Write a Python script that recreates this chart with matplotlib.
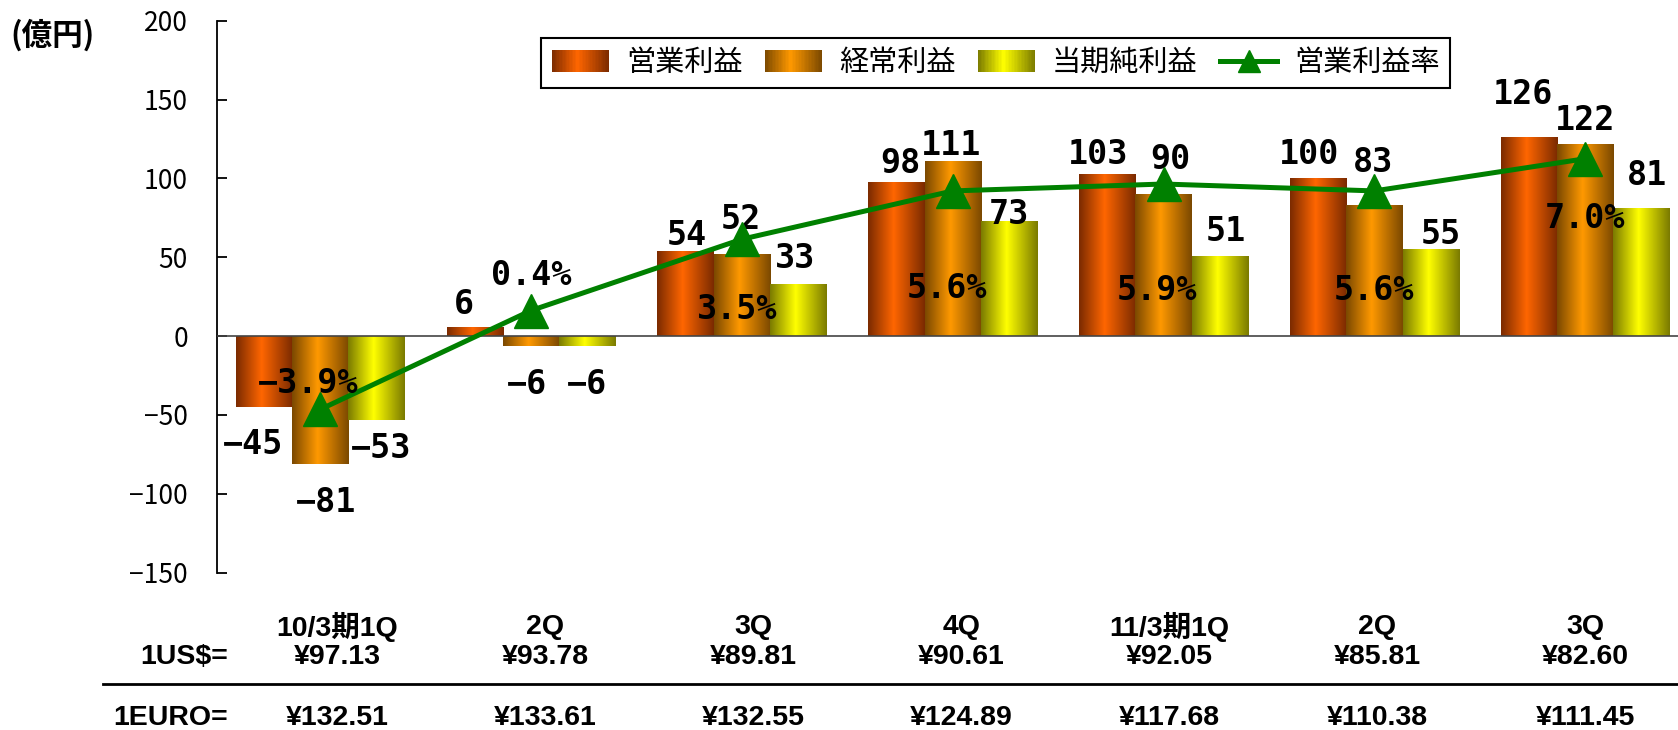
import matplotlib
matplotlib.use("Agg")
import matplotlib.pyplot as plt
import matplotlib.transforms as mtransforms
import numpy as np
from matplotlib.colors import LinearSegmentedColormap
from matplotlib.legend_handler import HandlerBase
from matplotlib.lines import Line2D
from matplotlib.patches import Rectangle

plt.rcParams['font.family'] = ['Noto Sans CJK JP', 'DejaVu Sans']

# data
quarters = ['10/3期1Q', '2Q', '3Q', '4Q', '11/3期1Q', '2Q', '3Q']
usd_rate = ['¥97.13', '¥93.78', '¥89.81', '¥90.61', '¥92.05', '¥85.81', '¥82.60']
euro_rate = ['¥132.51', '¥133.61', '¥132.55', '¥124.89', '¥117.68', '¥110.38', '¥111.45']
op_profit = [-45, 6, 54, 98, 103, 100, 126]
ord_profit = [-81, -6, 52, 111, 90, 83, 122]
net_profit = [-53, -6, 33, 73, 51, 55, 81]
op_margin = [-3.9, 0.4, 3.5, 5.6, 5.9, 5.6, 7.0]
series_names = ['営業利益', '経常利益', '当期純利益']
line_name = '営業利益率'

# gradient colours (edge, centre) per series
grad_colors = [('#7a2a00', '#ff6600'), ('#7a4800', '#ff9900'), ('#7a7a00', '#ffff00')]
line_color = '#008000'

# label nudges in pixels (dx, dy) from the bar end / line point
bar_nudge = [
    [(-11, -34), (-11, 25), (1, 18), (4, 21), (-9, 22), (-9, 27), (-6, 46)],
    [(6, -36), (-4, -36), (-1, 38), (-2, 19), (7, 38), (-1, 46), (0, 26)],
    [(5, -26), (0, -36), (-3, 29), (0, 10), (6, 27), (10, 18), (5, 36)],
]
pct_nudge = [(-12, 29), (0, 38), (-5, -67), (-6, -95), (-7, -103), (0, -97), (0, -57)]


def make_cmap(edge, centre):
    return LinearSegmentedColormap.from_list('g', [(0, edge), (0.45, centre), (1, edge)])


class GradientHandler(HandlerBase):
    def __init__(self, cmap):
        super().__init__()
        self.cmap = cmap

    def create_artists(self, legend, orig_handle, xdescent, ydescent,
                       width, height, fontsize, trans):
        n = 40
        step = width / n
        arts = []
        for i in range(n):
            arts.append(Rectangle((-xdescent + i * step, -ydescent), step * 1.15, height,
                                  facecolor=self.cmap((i + 0.5) / n), edgecolor='none',
                                  transform=trans))
        return arts


fig = plt.figure(figsize=(16.78, 7.3), dpi=100)
ax = fig.add_axes([0.1293, 0.2155, 0.8707, 0.7561])

x = np.arange(len(quarters))
w = 0.267
all_series = [op_profit, ord_profit, net_profit]
cmaps = [make_cmap(*c) for c in grad_colors]
grad = np.linspace(0, 1, 256).reshape(1, -1)

for k, vals in enumerate(all_series):
    xs = x + (k - 1) * w
    bars = ax.bar(xs, vals, w, color=grad_colors[k][1], linewidth=0, zorder=2)
    for p in bars:
        x0, y0, bw, bh = p.get_x(), p.get_y(), p.get_width(), p.get_height()
        im = ax.imshow(grad, cmap=cmaps[k], extent=[x0, x0 + bw, y0, y0 + bh],
                       aspect='auto', zorder=2.1, interpolation='bilinear')
        im.set_clip_path(p)
    for i, v in enumerate(vals):
        dx, dy = bar_nudge[k][i]
        ax.annotate(str(v).replace('-', '\u2212'), (xs[i], v), xytext=(dx, dy - 3),
                    textcoords='offset pixels', ha='center', va='center',
                    fontsize=24, fontweight='bold', family='DejaVu Sans Mono', zorder=6)

ax.axhline(0, color='#444444', lw=1.2, zorder=3)
ax.set_xlim(-0.49, 6.44)
ax.set_ylim(-150, 200)
ax.set_yticks(range(-150, 201, 50))
ax.set_xticks([])
for s in ['top', 'right', 'bottom']:
    ax.spines[s].set_visible(False)
ax.spines['left'].set_linewidth(1.3)
ax.tick_params(axis='y', direction='in', length=7, width=1.3, labelsize=19, pad=21)

ax2 = ax.twinx()
ax2.set_ylim(-11, 13)
ax2.set_axis_off()
ax2.plot(x, op_margin, color=line_color, lw=3.6, marker='^', ms=24, zorder=4)
for i, p in enumerate(op_margin):
    dx, dy = pct_nudge[i]
    ax2.annotate(f'{p:.1f}%'.replace('-', '\u2212'), (x[i], p), xytext=(dx, dy - 3),
                 textcoords='offset pixels', ha='center', va='center',
                 fontsize=24, fontweight='bold', family='DejaVu Sans Mono', zorder=6)

# legend
proxies = [Rectangle((0, 0), 1, 1) for _ in series_names]
line_proxy = Line2D([], [], color=line_color, lw=3.6, marker='^', ms=16)
hmap = {p: GradientHandler(c) for p, c in zip(proxies, cmaps)}
leg = fig.legend(proxies + [line_proxy], series_names + [line_name], handler_map=hmap,
                 loc='upper left', bbox_to_anchor=(0.314, 0.968), ncol=4, fontsize=21,
                 handlelength=1.97, handleheight=0.78, handletextpad=0.57,
                 columnspacing=0.77, borderpad=0.35, fancybox=False, framealpha=1)
leg.get_frame().set_edgecolor('black')
leg.get_frame().set_linewidth(1.5)

fig.text(0.006, 0.952, '(億円)', fontsize=22, fontweight='bold', ha='left', va='center')

# exchange rate table under the chart
tr = mtransforms.blended_transform_factory(ax.transData, fig.transFigure)
lab_x = np.linspace(0.08, 6.0, len(quarters))
tfont = dict(family=['Liberation Sans', 'Noto Sans CJK JP'], fontweight='bold', fontsize=20.5)
for i in range(len(quarters)):
    ax.text(lab_x[i], 0.141, quarters[i], transform=tr, ha='center', va='center', **tfont)
    ax.text(lab_x[i], 0.100, usd_rate[i], transform=tr, ha='center', va='center', **tfont)
    ax.text(lab_x[i], 0.0164, euro_rate[i], transform=tr, ha='center', va='center', **tfont)
fig.text(0.1359, 0.100, '1US$=', ha='right', va='center', **tfont)
fig.text(0.1359, 0.0164, '1EURO=', ha='right', va='center', **tfont)
fig.add_artist(Line2D([0.0614, 1.0], [0.063, 0.063], color='black', lw=2, transform=fig.transFigure))

fig.savefig('out.png', dpi=100)
